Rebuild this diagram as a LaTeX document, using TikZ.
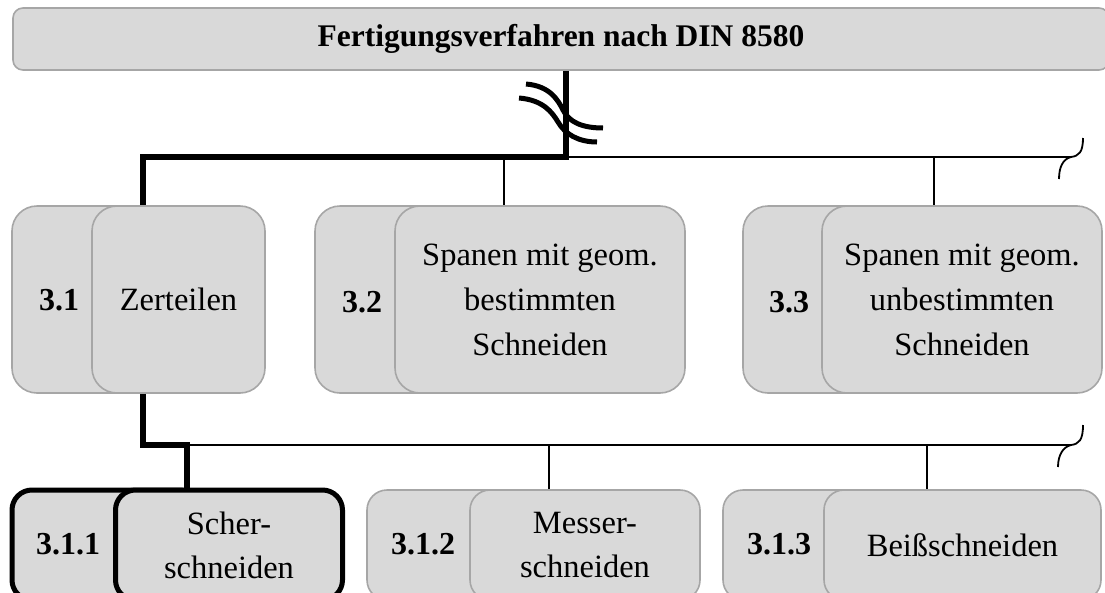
\documentclass[tikz,border=0pt]{standalone}
\usepackage{fontspec}
\setmainfont{Liberation Serif}
\definecolor{boxfill}{HTML}{D9D9D9}
\definecolor{boxline}{HTML}{A6A6A6}
\begin{document}
\begin{tikzpicture}[x=1pt,y=-1pt,
  gbox/.style={draw=boxline, fill=boxfill, line width=1.6pt, rounded corners=25pt, inner sep=0pt, align=center, font=\fontsize{32.5}{45}\selectfont},
  gboxs/.style={gbox, rounded corners=20pt, font=\fontsize{32.5}{44}\selectfont},
  selbox/.style={gboxs, draw=black, line width=5pt},
  numtxt/.style={inner sep=0pt, font=\fontsize{32}{38}\selectfont\bfseries},
  thickc/.style={draw=black, line width=5.5pt},
  thinc/.style={draw=black, line width=1.8pt},
  breakc/.style={draw=black, line width=5pt}]
\useasboundingbox (0,0) rectangle (1105,592);

% title
\node[gbox, rounded corners=10pt, minimum width=1096pt, minimum height=62pt, font=\fontsize{31.5}{38}\selectfont\bfseries] (title) at (561,39) {Fertigungsverfahren nach DIN 8580};

% level 1
\node[gbox, minimum width=178pt, minimum height=187pt] (b31) at (101,299.5) {};
\node[gbox, minimum width=173pt, minimum height=187pt] (f31) at (178.5,299.5) {Zerteilen};
\node[numtxt] (n31) at (59,300) {3.1};

\node[gbox, minimum width=165pt, minimum height=187pt] (b32) at (397.5,299.5) {};
\node[gbox, minimum width=290pt, minimum height=187pt] (f32) at (540,299.5) {Spanen mit geom.\\bestimmten\\Schneiden};
\node[numtxt] (n32) at (362,302) {3.2};

\node[gbox, minimum width=157pt, minimum height=187pt] (b33) at (821.5,299.5) {};
\node[gbox, minimum width=280pt, minimum height=187pt] (f33) at (962,299.5) {Spanen mit geom.\\unbestimmten\\Schneiden};
\node[numtxt] (n33) at (789,302) {3.3};

% level 2
\node[selbox, minimum width=188pt, minimum height=110pt] (b311) at (106,545) {};
\node[selbox, minimum width=227pt, minimum height=110pt] (f311) at (229,545) {Scher-\\schneiden};
\node[numtxt] (n311) at (68,544) {3.1.1};

\node[gboxs, minimum width=153pt, minimum height=110pt] (b312) at (443.5,545) {};
\node[gboxs, minimum width=230pt, minimum height=110pt] (f312) at (585,545) {Messer-\\schneiden};
\node[numtxt] (n312) at (423,544) {3.1.2};

\node[gboxs, minimum width=157pt, minimum height=110pt] (b313) at (801.5,545) {};
\node[gboxs, minimum width=277pt, minimum height=110pt] (f313) at (962.5,545) {Beißschneiden};
\node[numtxt] (n313) at (779,544) {3.1.3};

% connectors level 0 -> 1
\coordinate (j1) at (566,157);
\coordinate (d31) at (143,157);
\coordinate (d32) at (504,157);
\coordinate (d33) at (934,157);
\coordinate (e1) at (1071,157);
\draw[thinc] (j1) -- (e1);
\draw[thinc] (d32) -- (d32 |- f32.north);
\draw[thinc] (d33) -- (d33 |- f33.north);
\draw[thinc] (e1) .. controls (1079,156) and (1083,152) .. (1083,138);
\draw[thinc] (e1) .. controls (1063,159) and (1059,167) .. (1059,179);
\draw[thickc] (title.south -| j1) -- (j1) -- (d31) -- (d31 |- f31.north);
% break symbol
\draw[breakc] (526,84) .. controls (550,86) and (558,100) .. (563,110) .. controls (569,122) and (582,128) .. (603,128);
\draw[breakc] (519,98) .. controls (543,100) and (552,112) .. (558,122) .. controls (565,134) and (578,142) .. (597,142);

% connectors level 1 -> 2
\coordinate (k1) at (143,445);
\coordinate (d311) at (187,445);
\coordinate (d312) at (549,445);
\coordinate (d313) at (927,445);
\coordinate (e2) at (1071,445);
\draw[thinc] (d311) -- (e2);
\draw[thinc] (d312) -- (d312 |- f312.north);
\draw[thinc] (d313) -- (d313 |- f313.north);
\draw[thinc] (e2) .. controls (1079,444) and (1083,440) .. (1083,425);
\draw[thinc] (e2) .. controls (1063,447) and (1058,455) .. (1058,467);
\draw[thickc] (f31.south -| k1) -- (k1) -- (d311) -- (d311 |- f311.north);
\end{tikzpicture}
\end{document}
